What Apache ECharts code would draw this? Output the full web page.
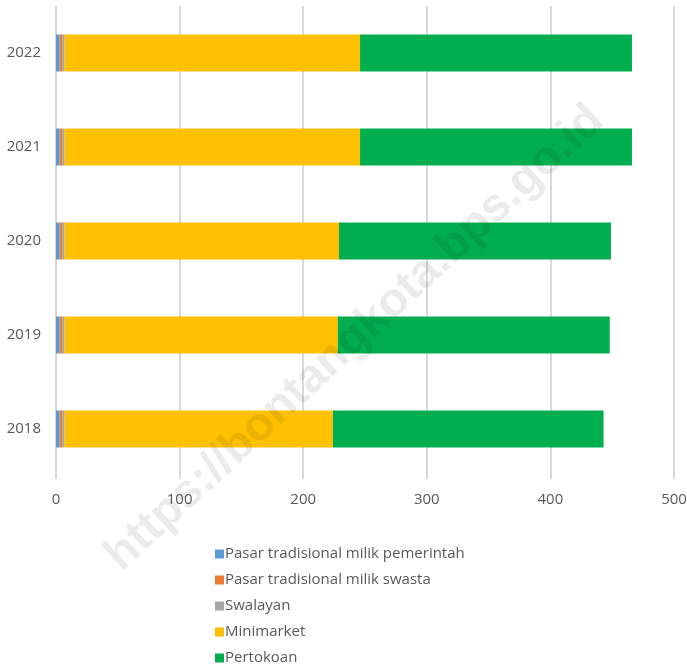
<!DOCTYPE html>
<html>
<head>
<meta charset="utf-8">
<script src="https://cdn.jsdelivr.net/npm/echarts@6/dist/echarts.min.js"></script>
<style>
  html, body { margin: 0; padding: 0; background: #fff; }
  #chart { width: 687px; height: 666px; }
</style>
</head>
<body>
<div id="chart"></div>
<script>
// jumlah sarana perdagangan per tahun
var years = ['2018', '2019', '2020', '2021', '2022']
var pasarPemerintah = [3, 3, 3, 3, 3]
var pasarSwasta = [2, 2, 2, 2, 2]
var swalayan = [2, 2, 2, 2, 2]
var minimarket = [217, 221, 222, 239, 239]
var pertokoan = [219, 220, 220, 220, 220]
var xTicks = [0, 100, 200, 300, 400, 500]

var seriesNames = ['Pasar tradisional milik pemerintah', 'Pasar tradisional milik swasta', 'Swalayan', 'Minimarket', 'Pertokoan']
var seriesData = [pasarPemerintah, pasarSwasta, swalayan, minimarket, pertokoan]
var colors = ['#5b9bd5', '#ed7d31', '#a5a5a5', '#ffc000', '#00ad4f']

var font = "'Open Sans', sans-serif"

var myChart = echarts.init(document.getElementById('chart'));

var series = []
for (var i in seriesNames) {
  series.push({
    name: seriesNames[i],
    type: 'bar',
    stack: 'total',
    barWidth: 37,
    data: seriesData[i]
  })
}

var option = {
  color: colors,
  animation: false,
  grid: {
    left: 56,
    right: 13,
    top: 6,
    bottom: 190,
    outerBoundsMode: 'none'
  },
  legend: {
    orient: 'vertical',
    left: 210,
    top: 540,
    height: 130,
    itemWidth: 9,
    itemHeight: 9,
    itemGap: 8,
    icon: 'rect',
    textStyle: { color: '#595959', fontSize: 15, fontFamily: font, padding: [0, 0, 0, -4], lineHeight: 18 }
  },
  xAxis: {
    type: 'value',
    min: xTicks[0],
    max: xTicks[xTicks.length - 1],
    interval: 100,
    axisLine: { show: false },
    axisTick: { show: true, length: 3, lineStyle: { color: '#d9d9d9', width: 2 } },
    axisLabel: { color: '#595959', fontSize: 15, fontFamily: font, margin: 16 },
    splitLine: { lineStyle: { color: '#d9d9d9', width: 2 } }
  },
  yAxis: {
    type: 'category',
    data: years,
    axisLine: { lineStyle: { color: '#d9d9d9', width: 2 } },
    axisTick: { show: false },
    axisLabel: { color: '#595959', fontSize: 15, fontFamily: font, margin: 15 }
  },
  graphic: [{
    type: 'text',
    x: 355,
    y: 338,
    rotation: Math.PI / 4.2,
    style: {
      text: 'https://bontangkota.bps.go.id',
      fontSize: 47,
      fontWeight: 'bold',
      fontFamily: "'Liberation Sans', sans-serif",
      fill: 'rgba(0,0,0,0.08)',
      align: 'center',
      verticalAlign: 'middle'
    },
    silent: true,
    z: 100
  }],
  series: series
};

myChart.setOption(option)
</script>
</body>
</html>
